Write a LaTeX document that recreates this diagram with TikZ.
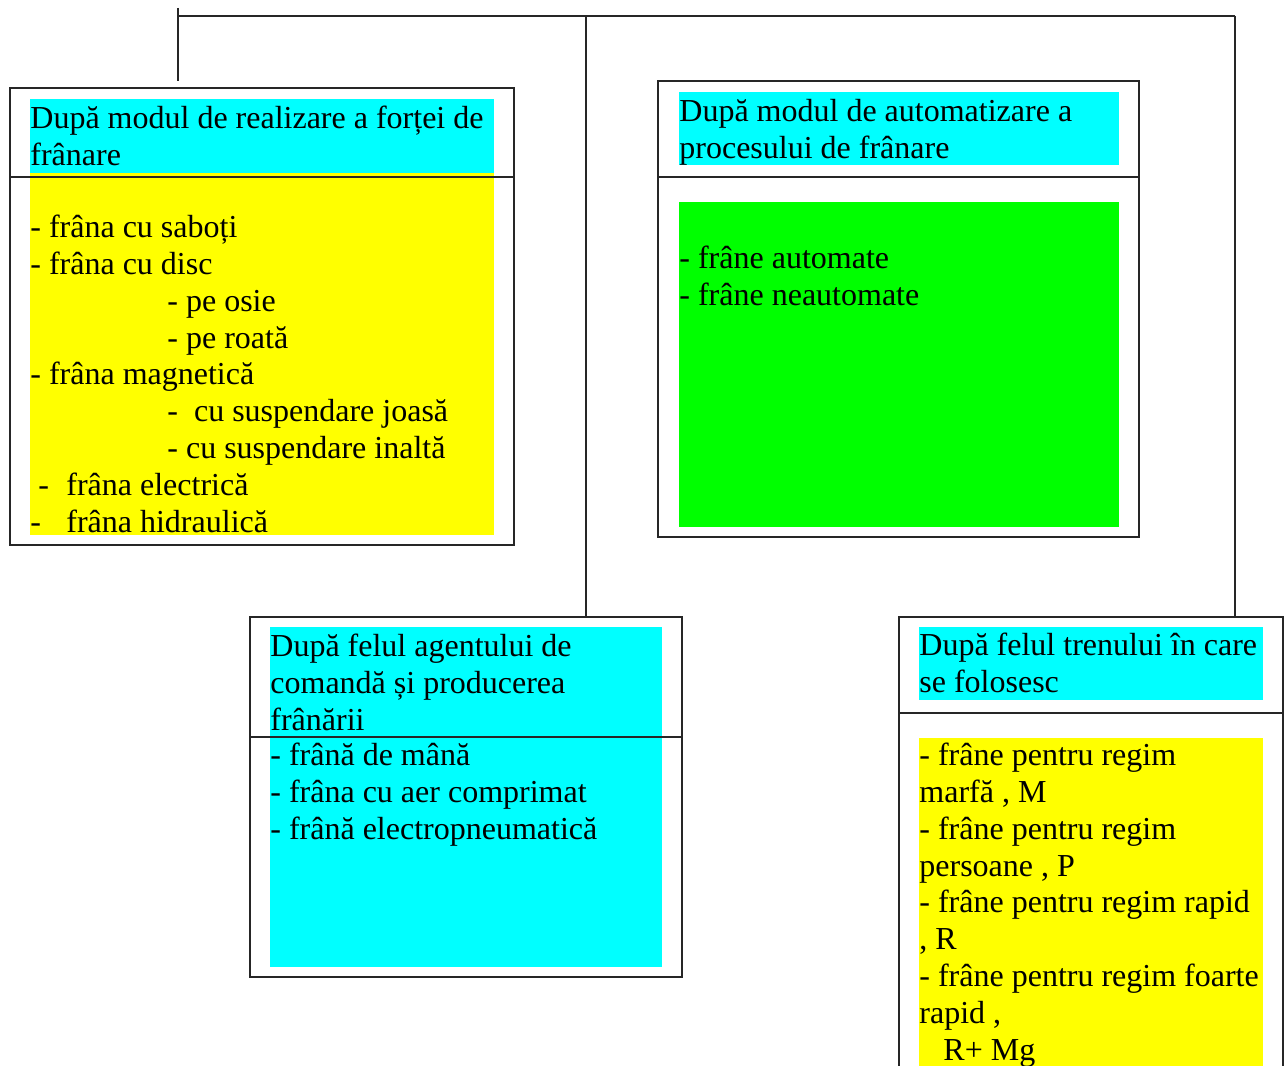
\documentclass[tikz,border=0pt]{standalone}
\usepackage{fontspec}
\setmainfont{Liberation Serif}
\usetikzlibrary{positioning,fit}
\definecolor{cyanfill}{RGB}{0,255,255}
\definecolor{yellowfill}{RGB}{255,255,0}
\definecolor{greenfill}{RGB}{0,255,0}
\tikzset{
  frame/.style={draw=black!85, line width=1pt, inner sep=0pt},
  patch/.style={inner sep=0pt, draw=none},
  txt/.style={anchor=base west, align=left, inner sep=0pt, font=\fontsize{16pt}{18.4pt}\selectfont},
  wire/.style={line width=1pt, draw=black!85},
}

\begin{document}
\begin{tikzpicture}[x=0.5pt,y=-0.5pt]
      \clip (0,0) rectangle (1288,1065);
      \fill[white] (0,0) rectangle (1288,1065);

      \node[patch, fill=cyanfill, fit={(30,99) (494,173)}] (realizareHead) {};
      \node[patch, fill=yellowfill, fit={(30,173) (494,535)}] (realizareBody) {};
      \node[frame, fit={(10,88) (514,545)}] (realizare) {};

      \node[patch, fill=cyanfill, fit={(679,92) (1119,165)}] (automatHead) {};
      \node[patch, fill=greenfill, fit={(679,202) (1119,527)}] (automatBody) {};
      \node[frame, fit={(658,81) (1139,537)}] (automat) {};

      \node[patch, fill=cyanfill, fit={(270,627) (662,967)}] (agentFill) {};
      \node[frame, fit={(250,617) (682,977)}] (agent) {};

      \node[patch, fill=cyanfill, fit={(919,627) (1263,700)}] (trenHead) {};
      \node[patch, fill=yellowfill, fit={(919,738) (1263,1080)}] (trenBody) {};
      \node[frame, fit={(899,617) (1283,1100)}] (tren) {};

      \coordinate (cutA) at (0,177);
      \coordinate (cutB) at (0,737);
      \coordinate (cutC) at (0,713);
      \draw[wire] (realizare.west |- cutA) -- (realizare.east |- cutA);
      \draw[wire] (automat.west |- cutA) -- (automat.east |- cutA);
      \draw[wire] (agent.west |- cutB) -- (agent.east |- cutB);
      \draw[wire] (tren.west |- cutC) -- (tren.east |- cutC);

      \coordinate (stubTop) at (178,8);
      \coordinate (stubEnd) at (178,81);
      \coordinate (busL) at (178,16);
      \coordinate (busM) at (586,16);
      \coordinate (busR) at (1235,16);
      \draw[wire] (stubTop) -- (stubEnd);
      \draw[wire] (busL) -- (busR);
      \draw[wire] (busM) -- (agent.north -| busM);
      \draw[wire] (busR) -- (tren.north -| busR);

      \node[txt] (realizareTitle) at (30,165) {După modul de realizare a forței de\\frânare};
      \node[txt] (realizareList) at (30,532) {- frâna cu saboți\\- frâna cu disc\\\hspace*{68.5pt}- pe osie\\\hspace*{68.5pt}- pe roată\\- frâna magnetică\\\hspace*{68.5pt}-\ \ cu suspendare joasă\\\hspace*{68.5pt}- cu suspendare inaltă\\\makebox[18pt][l]{\hspace*{4pt}-}frâna electrică\\\makebox[18pt][l]{-}frâna hidraulică};

      \node[txt] (automatTitle) at (679,158) {După modul de automatizare a\\procesului de frânare};
      \node[txt] (automatList) at (679,305) {- frâne automate\\- frâne neautomate};

      \node[txt] (agentTitle) at (270,730) {După felul agentului de\\comandă și producerea\\frânării};
      \node[txt] (agentList) at (270,839) {- frână de mână\\- frâna cu aer comprimat\\- frână electropneumatică};

      \node[txt] (trenTitle) at (919,692) {După felul trenului în care\\se folosesc};
      \node[txt] (trenList) at (919,1060) {- frâne pentru regim\\marfă , M\\- frâne pentru regim\\persoane , P\\- frâne pentru regim rapid\\, R\\- frâne pentru regim foarte\\rapid ,\\\hspace*{12pt}R+ Mg};
    \end{tikzpicture}
\end{document}
